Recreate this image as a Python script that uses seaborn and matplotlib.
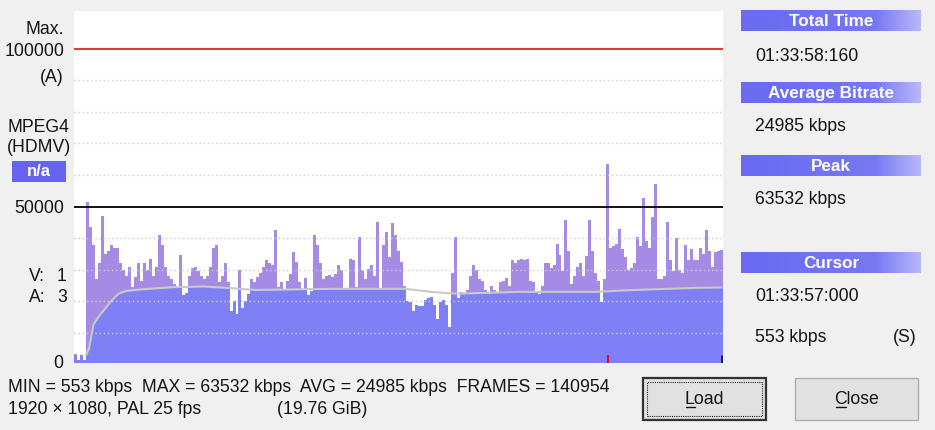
import numpy as np
import pandas as pd
import matplotlib
matplotlib.use("Agg")
import matplotlib.pyplot as plt
import seaborn as sns
from matplotlib.patches import Rectangle
from matplotlib.lines import Line2D
from matplotlib.colors import LinearSegmentedColormap

# ---------------- data (kbps / 1000) ----------------
seg1 = [3.5, 1.6, 3.0, 1.6, 51.5, 43.6, 37.8, 27, 32, 47, 35, 36, 37.8, 37, 37, 32, 30, 28, 31, 24.5,
        27.7, 32, 26.6, 32, 30, 33.5, 28, 31, 41, 38, 31, 28, 27, 25.5, 25, 34.6, 22, 22.5, 28, 30.5,
        31, 29.5, 28]
seg2 = [27, 28, 31, 37, 38, 26, 28, 32, 26, 17, 20, 16, 30, 18, 20, 22.3, 27, 26, 27.7, 29,
        31, 33, 32, 31.5, 42.5, 24.5, 26, 24, 26.5, 28.7, 35.6, 32.4, 26, 24, 27.5, 22, 23.4, 41, 38, 32,
        27, 28, 28.5, 27.7]
seg3 = [28.7, 31.4, 30, 24, 24, 33.5, 33, 24.5, 40.4, 30, 27, 30.3, 31.4, 28, 45, 24, 37.8, 42, 34, 44.7,
        41, 36, 32.5, 25, 20, 19.7, 17, 19, 18.5, 18.6, 20.3, 21, 21.5, 19, 14.3, 19.7, 20.3, 19, 12, 29,
        40.4, 21, 23]
seg4 = [22.3, 23.5, 28, 31.4, 30, 27, 26.3, 23.5, 22.3, 25, 23.5, 23, 26, 26.5, 27.3, 25, 33, 32, 33, 33.5,
        33, 33.5, 26.5, 26, 23.4, 22.3, 25, 32, 32, 30.5, 31.4, 38.3, 34.6, 29.5, 45.7, 36, 25.5, 28, 31, 32,
        28, 34.5, 45.7, 36]
seg5 = [29, 26.5, 19.7, 27, 63.532, 37, 37.5, 38.3, 43, 36.7, 34, 30, 30.5, 32, 40.4, 37.5, 52.7, 39, 37, 46.8,
        57, 27, 27, 28, 45, 33, 29.5, 40, 30, 29, 37.8, 33, 36.7, 33, 33, 37, 35, 42.5, 36, 31,
        35.6, 36, 36.3]
bitrate_k = seg1 + seg2 + seg3 + seg4 + seg5

# running-average line (sample index, kbps/1000)
avg_idx = [3.5, 4.5, 6, 8, 10, 12, 14.5, 17, 22, 33, 43, 52, 60, 87, 110, 119, 126, 130, 148, 174, 184, 208, 216]
avg_k = [3, 5, 12.7, 15.5, 17.8, 20.2, 22.5, 23.3, 23.8, 24.5, 24.7, 24.2, 23.6, 24, 24, 23.0, 22.5, 22.5, 23.0,
         23.0, 23.5, 24.3, 24.4]

grid_vals = [10000, 20000, 30000, 40000, 60000, 70000, 80000, 90000]
max_line = 100000
mid_line = 50000

side_headers = ["Total Time", "Average Bitrate", "Peak", "Cursor"]
side_values = ["01:33:58:160", "24985 kbps", "63532 kbps", "01:33:57:000"]

# ---------------- figure ----------------
sns.set_theme(style="white")
plt.rcParams['font.family'] = ['Liberation Sans', 'DejaVu Sans']

W, H = 935, 431
fig = plt.figure(figsize=(W / 100, H / 100), dpi=100, facecolor='#f0f0f0')


def fx(x):
    return x / W


def fy(y):
    return 1 - y / H


ax = fig.add_axes([fx(74), fy(364.3), (723 - 74) / W, (364.3 - 11.7) / H])
ax.set_facecolor('white')

n = len(bitrate_k)
idx = np.arange(n)
rate = np.array(bitrate_k) * 1000
avg_line = np.interp(idx, avg_idx, avg_k) * 1000
low = np.minimum(rate, avg_line)
df = pd.DataFrame({'i': idx, 'rate': rate, 'low': low})

sns.barplot(data=df, x='i', y='rate', native_scale=True, width=1, color='#a58be3',
            saturation=1, linewidth=0, errorbar=None, ax=ax, antialiased=False, zorder=1)
sns.barplot(data=df, x='i', y='low', native_scale=True, width=1, color='#8080f6',
            saturation=1, linewidth=0, errorbar=None, ax=ax, antialiased=False, zorder=1.5)

for g in grid_vals:
    ax.axhline(g, color='#cdcdcd', lw=1.0, ls=(0, (1, 2)), zorder=3)
ax.axhline(max_line, color='#e03a3a', lw=1.5, zorder=4)
ax.axhline(mid_line, color='#111111', lw=1.4, zorder=4)

sns.lineplot(x=avg_idx, y=np.array(avg_k) * 1000, color='#c9c9c9', lw=1.5, ax=ax, zorder=5)

peak_i = int(np.argmax(rate))
ax.plot([peak_i, peak_i], [400, 3000], color='#e0102a', lw=1.6, zorder=6, solid_capstyle='butt')
ax.plot([n - 0.7, n - 0.7], [400, 3000], color='#1a1a40', lw=2.0, zorder=6, solid_capstyle='butt')

ax.set_xlim(-0.5, n - 0.5)
ax.set_ylim(400, 112000)
ax.set_xticks([])
ax.set_yticks([])
ax.set_xlabel('')
ax.set_ylabel('')
for s in ax.spines.values():
    s.set_visible(False)

FS = 12.7
TC = '#141414'

# ---------------- left labels ----------------
fig.text(fx(64), fy(30), "Max.", ha='right', va='center', fontsize=FS, color=TC)
fig.text(fx(64), fy(51.5), "100000", ha='right', va='center', fontsize=FS, color=TC)
fig.text(fx(64), fy(78), "(A)", ha='right', va='center', fontsize=FS, color=TC)
fig.text(fx(38.5), fy(127), "MPEG4", ha='center', va='center', fontsize=FS, color=TC)
fig.text(fx(38.5), fy(148), "(HDMV)", ha='center', va='center', fontsize=FS, color=TC)
fig.patches.append(Rectangle((fx(11.5), fy(182.5)), (66 - 11.5) / W, 21 / H, transform=fig.transFigure,
                             facecolor='#6464f0', edgecolor='none'))
fig.text(fx(39), fy(172), "n/a", ha='center', va='center', fontsize=FS - 0.6, color='white', fontweight='bold')
fig.text(fx(64), fy(208.5), "50000", ha='right', va='center', fontsize=FS, color=TC)
fig.text(fx(29), fy(276.5), "V:", ha='left', va='center', fontsize=FS, color=TC)
fig.text(fx(67), fy(276.5), "1", ha='right', va='center', fontsize=FS, color=TC)
fig.text(fx(29), fy(297.5), "A:", ha='left', va='center', fontsize=FS, color=TC)
fig.text(fx(67), fy(297.5), "3", ha='right', va='center', fontsize=FS, color=TC)
fig.text(fx(63), fy(364), "0", ha='right', va='center', fontsize=FS, color=TC)

# ---------------- right panel ----------------
cmap = LinearSegmentedColormap.from_list('hdr', [(0, '#6a6af2'), (0.75, '#7878f3'), (1.0, '#b8b8fa')])
grad = np.linspace(0, 1, 256).reshape(1, -1)
box_tops = [11, 82.7, 156, 253]
val_ys = [56.7, 126.7, 200, 296.7]
for hdr, top, val, vy in zip(side_headers, box_tops, side_values, val_ys):
    bax = fig.add_axes([fx(741), fy(top + 21), (921 - 741) / W, 21 / H])
    bax.imshow(grad, aspect='auto', cmap=cmap, extent=[0, 1, 0, 1])
    bax.set_axis_off()
    fig.text(fx(831), fy(top + 10.5), hdr, ha='center', va='center', fontsize=FS - 0.4,
             color='white', fontweight='bold')
    fig.text(fx(755), fy(vy), val, ha='left', va='center', fontsize=FS, color=TC)
fig.text(fx(755), fy(337.3), "553 kbps", ha='left', va='center', fontsize=FS, color=TC)
fig.text(fx(917), fy(337.3), "(S)", ha='right', va='center', fontsize=FS, color=TC)

# ---------------- bottom info ----------------
fig.text(fx(8), fy(388), "MIN = 553 kbps  MAX = 63532 kbps  AVG = 24985 kbps  FRAMES = 140954",
         ha='left', va='center', fontsize=FS, color=TC)
fig.text(fx(8), fy(410), "1920 × 1080, PAL 25 fps", ha='left', va='center', fontsize=FS, color=TC)
fig.text(fx(277), fy(410), "(19.76 GiB)", ha='left', va='center', fontsize=FS, color=TC)

# ---------------- buttons ----------------
def button(x0, x1, label, default):
    y0, y1 = 379, 421
    fig.patches.append(Rectangle((fx(x0), fy(y1)), (x1 - x0) / W, (y1 - y0) / H, transform=fig.transFigure,
                                 facecolor='#e1e1e1', edgecolor='#333333' if default else '#adadad',
                                 lw=1.6 if default else 1.0))
    if default:
        fig.patches.append(Rectangle((fx(x0 + 4), fy(y1 - 4)), (x1 - x0 - 8) / W, (y1 - y0 - 8) / H,
                                     transform=fig.transFigure, facecolor='none', edgecolor='#222222',
                                     lw=0.8, ls=(0, (1, 1))))
    cx = (x0 + x1) / 2
    fig.text(fx(cx), fy(400), label, ha='center', va='center', fontsize=FS, color=TC)


button(643, 766, "Load", True)
fig.lines.append(Line2D([fx(686), fx(695)], [fy(407.5), fy(407.5)], transform=fig.transFigure, color=TC, lw=1))
button(795, 918, "Close", False)
fig.lines.append(Line2D([fx(836), fx(846)], [fy(407.5), fy(407.5)], transform=fig.transFigure, color=TC, lw=1))

fig.savefig('out.png', dpi=100, facecolor=fig.get_facecolor())
